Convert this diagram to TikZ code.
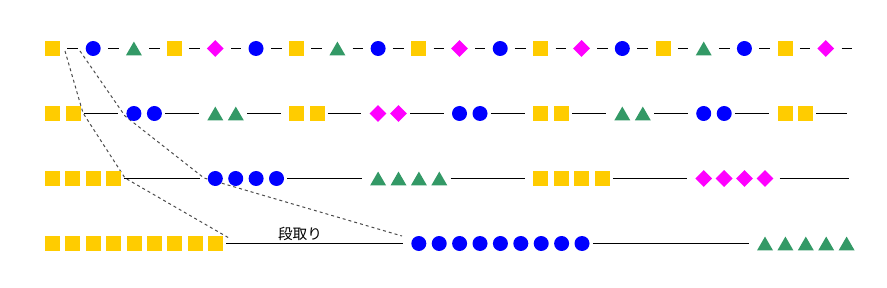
\documentclass[tikz,border=0pt]{standalone}
\usepackage{fontspec}
\newfontfamily\jpfont{Noto Sans CJK JP}
\usetikzlibrary{shapes.geometric}

\definecolor{lotSq}{HTML}{FFCC00}
\definecolor{lotCi}{HTML}{0000FF}
\definecolor{lotTr}{HTML}{339966}
\definecolor{lotDi}{HTML}{FF00FF}

\begin{document}
\begin{tikzpicture}[x=0.75pt, y=-0.75pt]

  % ---------- Styling ----------
  \tikzset{
    item/.style={inner sep=0pt, minimum size=11.25pt, draw=none},
    sqr/.style={item, rectangle, fill=lotSq},
    crc/.style={item, circle, fill=lotCi},
    dmd/.style={item, diamond, minimum size=12.75pt, fill=lotDi},
    trg/.style={item, rectangle, minimum width=12pt, minimum height=10.4pt,
      path picture={\fill[lotTr] (path picture bounding box.south west)
        -- (path picture bounding box.south east)
        -- (path picture bounding box.north) -- cycle;}},
    gapline/.style={draw=black, line width=0.75pt, shorten <=5.25pt, shorten >=5.25pt},
    runline/.style={draw=black, line width=0.75pt, shorten <=2.25pt, shorten >=6pt},
    lagline/.style={draw=black!70, line width=0.75pt, dash pattern=on 2.25pt off 2.25pt},
    jplabel/.style={font=\jpfont\fontsize{11pt}{13pt}\selectfont, inner sep=0pt}
  }

  \useasboundingbox (0,0) rectangle (887,288);

  % ---------- Setup lag (dashed) ----------
  \coordinate (lagA1) at (65,51);
  \coordinate (lagA2) at (83,113);
  \coordinate (lagA3) at (125,178);
  \coordinate (lagA4) at (229,238);
  \coordinate (lagB1) at (80,51);
  \coordinate (lagB2) at (125,116);
  \coordinate (lagB3) at (204,178);
  \coordinate (lagB4) at (402,236);
  \draw[lagline] (lagA1) -- (lagA2) -- (lagA3) -- (lagA4);
  \draw[lagline] (lagB1) -- (lagB2) -- (lagB3) -- (lagB4);

  % ---------- Row 1: lot size 1 ----------
  \foreach \t [count=\k from 0] in {sqr,crc,trg,sqr,dmd,crc,sqr,trg,crc,sqr,dmd,crc,sqr,dmd,crc,sqr,trg,crc,sqr,dmd}
    \node[style/.expanded=\t] (a\k) at ({52.5+40.7*\k},48.5) {};
  \foreach \k in {0,...,18} {
    \pgfmathtruncatemacro\n{\k+1}
    \draw[gapline] (a\k) -- (a\n);
  }
  \coordinate (aend) at (852,48.5);
  \draw[gapline, shorten >=0pt] (a19) -- (aend);

  % ---------- Row 2: lot size 2 ----------
  \foreach \t [count=\j from 0] in {sqr,crc,trg,sqr,dmd,crc,sqr,trg,crc,sqr}
    \foreach \m in {0,1} {
      \pgfmathtruncatemacro\i{2*\j+\m}
      \node[style/.expanded=\t] (b\i) at ({52.5+81.4*\j+20.5*\m},113.5) {};
    }
  \foreach \j in {0,...,8} {
    \pgfmathtruncatemacro\p{2*\j+1}
    \pgfmathtruncatemacro\q{2*\j+2}
    \draw[runline] (b\p) -- (b\q);
  }
  \coordinate (bend) at (847,113.5);
  \draw[runline, shorten >=0pt] (b19) -- (bend);

  % ---------- Row 3: lot size 4 ----------
  \foreach \t [count=\j from 0] in {sqr,crc,trg,sqr,dmd}
    \foreach \m in {0,...,3} {
      \pgfmathtruncatemacro\i{4*\j+\m}
      \node[style/.expanded=\t] (c\i) at ({52.5+162.8*\j+20.4*\m},178.5) {};
    }
  \foreach \j in {0,...,3} {
    \pgfmathtruncatemacro\p{4*\j+3}
    \pgfmathtruncatemacro\q{4*\j+4}
    \draw[runline] (c\p) -- (c\q);
  }
  \coordinate (cend) at (849,178.5);
  \draw[runline, shorten <=4.5pt, shorten >=0pt] (c19) -- (cend);

  % ---------- Row 4: lot size 9 ----------
  \foreach \m in {0,...,8} {
    \node[sqr] (d\m) at ({52.5+20.4*\m},243.5) {};
    \node[crc] (e\m) at ({418.8+20.4*\m},243.5) {};
  }
  \foreach \m in {0,...,4}
    \node[trg] (f\m) at ({765+20.4*\m},243.5) {};
  \draw[runline] (d8) -- (e0);
  \draw[runline] (e8) -- (f0);

  \node[jplabel, anchor=base] (setup) at (300,239.5) {段取り};

\end{tikzpicture}
\end{document}
